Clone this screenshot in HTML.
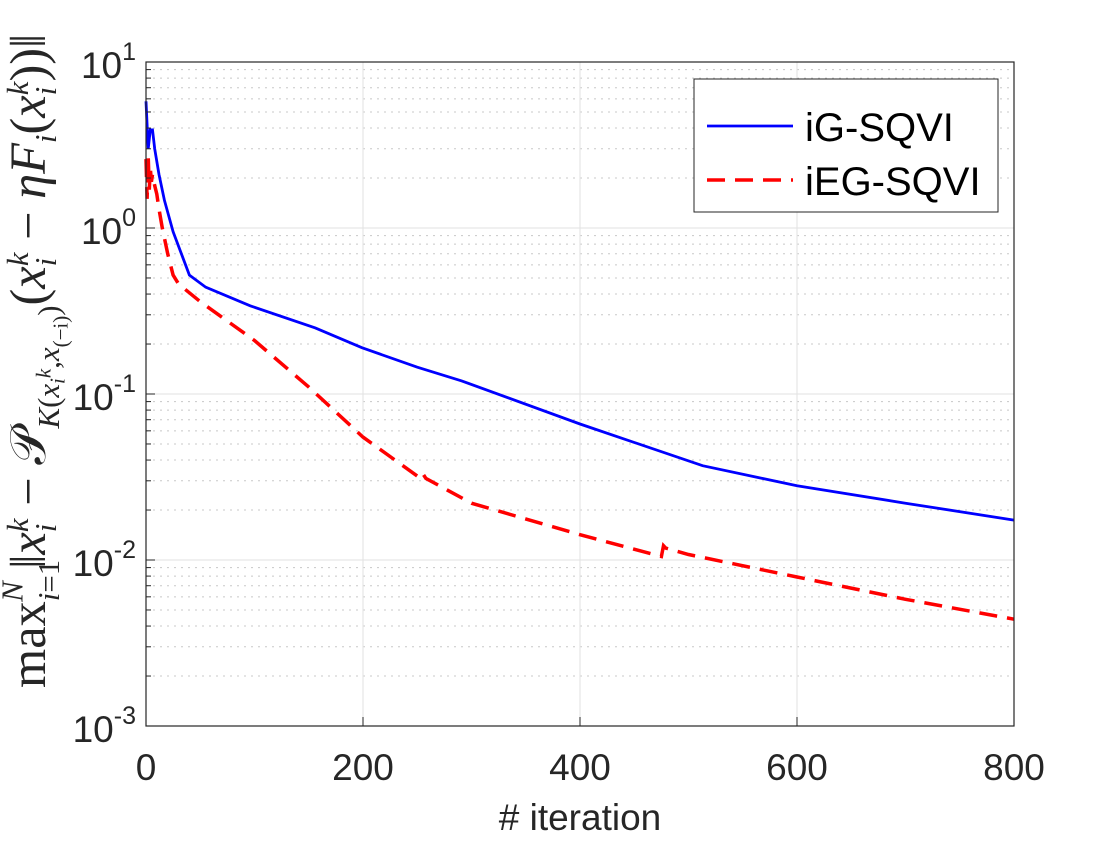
<!DOCTYPE html>
<html><head><meta charset="utf-8"><style>
body{margin:0;background:#fff;width:1120px;height:840px;overflow:hidden}
svg{font-family:"Liberation Sans",sans-serif}
</style></head><body>
<svg id="chart" width="1120" height="840">
<g id="grid"></g>
<g id="series"></g>
<rect x="146" y="62" width="868" height="664" fill="none" stroke="#262626" stroke-width="1.2"/>
<g id="ticks"></g>
<text x="580" y="830" font-size="37" text-anchor="middle" fill="#262626"># iteration</text>
<text transform="translate(45,688) rotate(-90) scale(1.4)" font-family="Liberation Serif,serif" font-size="36" fill="#262626">max<tspan font-size="22" dy="10" font-style="italic">i</tspan><tspan font-size="22">=1</tspan><tspan font-size="22" dy="-26" dx="-30" font-style="italic">N</tspan><tspan dy="16"> ‖</tspan><tspan font-style="italic">x</tspan><tspan font-size="22" dy="8" font-style="italic">i</tspan><tspan font-size="22" dy="-20" dx="-6" font-style="italic">k</tspan><tspan dy="12"> − 𝒫</tspan><tspan font-size="22" dy="10" font-style="italic">K</tspan><tspan font-size="22">(</tspan><tspan font-size="22" font-style="italic">x</tspan><tspan font-size="15" dy="4" font-style="italic">i</tspan><tspan font-size="15" dy="-10" font-style="italic">k</tspan><tspan font-size="22" dy="6">,</tspan><tspan font-size="22" font-style="italic">x</tspan><tspan font-size="15" dy="6">(−i)</tspan><tspan font-size="22" dy="-6">)</tspan><tspan dy="-10">(</tspan><tspan font-style="italic">x</tspan><tspan font-size="22" dy="8" font-style="italic">i</tspan><tspan font-size="22" dy="-20" dx="-6" font-style="italic">k</tspan><tspan dy="12"> − </tspan><tspan font-style="italic">ηF</tspan><tspan font-size="22" dy="8" font-style="italic">i</tspan><tspan dy="-8">(</tspan><tspan font-style="italic">x</tspan><tspan font-size="22" dy="8" font-style="italic">i</tspan><tspan font-size="22" dy="-20" dx="-6" font-style="italic">k</tspan><tspan dy="12">))‖</tspan></text>
<g>
<rect x="694" y="79" width="304" height="133" fill="#fff" stroke="#262626" stroke-width="1"/>
<line x1="707" y1="126" x2="793" y2="126" stroke="#0000ff" stroke-width="2.8"/>
<text x="805" y="141" font-size="40" fill="#000">iG-SQVI</text>
<line x1="707" y1="180" x2="793" y2="180" stroke="#ff0000" stroke-width="3.5" stroke-dasharray="18,10"/>
<text x="805" y="195" font-size="40" fill="#000">iEG-SQVI</text>
</g>
</svg>
<script>
const xTicks=[0,200,400,600,800];
const yExps=[1,0,-1,-2,-3];
const igIter=[0,2,4,6,8,12,17,25,40,55,96,156,199,250,291,400,513,600,700,800];
const igVal=[5.8,3.0,3.9,3.9,3.0,2.1,1.47,0.95,0.52,0.44,0.34,0.25,0.19,0.145,0.12,0.066,0.037,0.028,0.022,0.0174];
const iegIter=[0,1,2,3,4,5,6,8,10,12,15,20,25,30,50,100,150,200,250,254,258,300,400,475,477,479,500,600,700,800];
const iegVal=[2.6,1.5,2.7,1.7,2.3,1.9,2.1,1.8,1.6,1.3,1.0,0.7,0.52,0.46,0.36,0.21,0.11,0.055,0.032,0.034,0.031,0.022,0.0142,0.0105,0.0122,0.0118,0.0108,0.0079,0.0058,0.0044];
const NS='http://www.w3.org/2000/svg';
const X0=146,X1=1014,Y0=62,DEC=166;
const sx=v=>X0+(v-0)/(800-0)*(X1-X0);
const sy=v=>Y0+(1-Math.log10(v))*DEC;
function mk(tag,attrs,parent){const e=document.createElementNS(NS,tag);for(const k in attrs)e.setAttribute(k,attrs[k]);parent.appendChild(e);return e;}
const grid=document.getElementById('grid'),ticks=document.getElementById('ticks'),series=document.getElementById('series');
for(let e=1;e>=-3;e--){
  const y=sy(Math.pow(10,e));
  const l=mk('line',{x1:X0,x2:X1,y1:y,y2:y,stroke:'#e2e2e2','stroke-width':1},grid);
  
  
  const t=mk('line',{x1:X0,x2:X0+9,y1:y,y2:y,stroke:'#262626'},ticks);
  
  
  if(e>-3)for(let m=2;m<=9;m++){
    const ym=sy(m*Math.pow(10,e-1));
    const g=mk('line',{x1:X0,x2:X1,y1:ym,y2:ym,stroke:'#c8c8c8','stroke-width':1,'stroke-dasharray':'2,5'},grid);
    
    
    const mt=mk('line',{x1:X0,x2:X0+5,y1:ym,y2:ym,stroke:'#262626'},ticks);
    
    
  }
}
yExps.forEach(e=>{
  const y=sy(Math.pow(10,e));
  const t=mk('text',{x:136,y:y+16,'font-size':37,'text-anchor':'end',fill:'#262626'},ticks);
  
  
  t.innerHTML='10<tspan font-size="25" dy="-18">'+e+'</tspan>';
});
xTicks.forEach(v=>{
  const x=sx(v);
  if(v>0&&v<800){const g=mk('line',{x1:x,x2:x,y1:Y0,y2:Y0+664,stroke:'#e2e2e2'},grid);
  
  }
  const tk=mk('line',{x1:x,x2:x,y1:726,y2:717,stroke:'#262626'},ticks);
  
  
  const t=mk('text',{x:x,y:780,'font-size':37,'text-anchor':'middle',fill:'#262626'},ticks);
  
  
  t.textContent=v;
});
function path(xs,ys){return xs.map((v,i)=>(i?'L':'M')+sx(v).toFixed(1)+','+sy(ys[i]).toFixed(1)).join(' ');}
const p1=mk('path',{d:path(igIter,igVal),fill:'none',stroke:'#0000ff','stroke-width':2.8},series);


const p2=mk('path',{d:path(iegIter,iegVal),fill:'none',stroke:'#ff0000','stroke-width':3.5,'stroke-dasharray':'18,10'},series);


</script>
</body></html>
